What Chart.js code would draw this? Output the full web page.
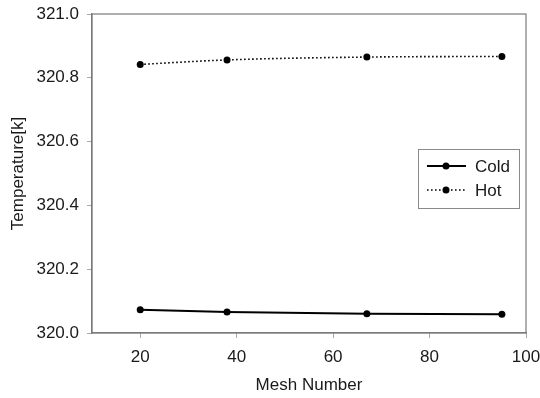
<!DOCTYPE html>
<html>
<head>
<meta charset="utf-8">
<script src="https://cdn.jsdelivr.net/npm/chart.js@4"></script>
<style>
  html, body { margin: 0; padding: 0; background: #fff; }
  #wrap { width: 540px; height: 398px; position: relative; }
</style>
</head>
<body>
<div id="wrap"><canvas id="tempChart"></canvas></div>
<script>
// Mesh sizes tested and the matching temperatures
const meshNumbers = [20, 38, 67, 95];
const coldTemps = [320.073, 320.066, 320.060, 320.059];
const hotTemps = [320.842, 320.856, 320.865, 320.867];
const xTicks = [20, 40, 60, 80, 100];
const yTicks = [320.0, 320.2, 320.4, 320.6, 320.8, 321.0];

const axisGray = '#7a7a7a';
const textColor = '#1a1a1a';
const fontFamily = "'Liberation Sans', Arial, sans-serif";

const toPoints = (ys) => meshNumbers.map((x, i) => ({ x: x, y: ys[i] }));

// draws the box around the plot area (top and right sides included)
const frame = {
    id: 'frame',
    afterDraw(chart) {
        const { ctx, chartArea: a } = chart;
        ctx.save();
        ctx.strokeStyle = axisGray;
        ctx.lineWidth = 1.2;
        ctx.strokeRect(a.left, a.top, a.right - a.left, a.bottom - a.top);
        ctx.restore();
    }
};

// legend box inside the plot, like the original
const boxLegend = {
    id: 'boxLegend',
    afterDraw(chart) {
        const { ctx, chartArea: a } = chart;
        const w = 101, h = 59;
        const x0 = a.right - 7 - w;
        const y0 = a.top + 135;
        ctx.save();
        ctx.fillStyle = '#fff';
        ctx.fillRect(x0, y0, w, h);
        ctx.strokeStyle = '#8a8a8a';
        ctx.lineWidth = 1;
        ctx.strokeRect(x0 + 0.5, y0 + 0.5, w, h);
        ctx.font = '17px ' + fontFamily;
        ctx.textBaseline = 'middle';
        chart.data.datasets.forEach((ds, i) => {
            const y = y0 + 17 + i * 24;
            ctx.strokeStyle = ds.borderColor;
            ctx.lineWidth = ds.borderWidth;
            ctx.setLineDash(ds.borderDash || []);
            ctx.beginPath();
            ctx.moveTo(x0 + 9, y);
            ctx.lineTo(x0 + 48, y);
            ctx.stroke();
            ctx.setLineDash([]);
            ctx.fillStyle = ds.pointBackgroundColor;
            ctx.beginPath();
            ctx.arc(x0 + 28, y, ds.pointRadius, 0, Math.PI * 2);
            ctx.fill();
            ctx.fillStyle = textColor;
            ctx.fillText(ds.label, x0 + 57, y + 1);
        });
        ctx.restore();
    }
};

new Chart(document.getElementById('tempChart'), {
    type: 'scatter',
    data: {
        datasets: [{
            label: 'Cold',
            data: toPoints(coldTemps),
            showLine: true,
            borderColor: '#000',
            borderWidth: 2,
            pointBackgroundColor: '#000',
            pointBorderWidth: 0,
            pointRadius: 3.5,
            tension: 0
        }, {
            label: 'Hot',
            data: toPoints(hotTemps),
            showLine: true,
            borderColor: '#000',
            borderWidth: 1.6,
            borderDash: [1.6, 2.4],
            pointBackgroundColor: '#000',
            pointBorderWidth: 0,
            pointRadius: 3.5,
            cubicInterpolationMode: 'monotone'
        }]
    },
    options: {
        responsive: true,
        maintainAspectRatio: false,
        animation: false,
        layout: { padding: { top: 14, right: 14, left: 0, bottom: 0 } },
        scales: {
            x: {
                type: 'linear',
                min: 10,
                max: 100,
                afterFit: (s) => { s.height = 65; s.paddingLeft = 0; s.paddingRight = 0; },
                afterBuildTicks: (s) => { s.ticks = xTicks.map(v => ({ value: v })); },
                border: { color: axisGray, width: 1.2 },
                grid: { drawOnChartArea: false, tickLength: 5, color: '#a8a8a8' },
                ticks: {
                    color: textColor,
                    font: { size: 17, family: fontFamily },
                    padding: 9,
                    maxRotation: 0
                },
                title: {
                    display: true,
                    text: 'Mesh Number',
                    color: textColor,
                    font: { size: 17, family: fontFamily },
                    padding: { top: 4, bottom: 2 }
                }
            },
            y: {
                min: 320.0,
                max: 321.0,
                afterFit: (s) => { s.width = 92; s.paddingTop = 0; s.paddingBottom = 0; },
                afterBuildTicks: (s) => { s.ticks = yTicks.map(v => ({ value: v })); },
                border: { color: axisGray, width: 1.2 },
                grid: { drawOnChartArea: false, tickLength: 5, color: '#a8a8a8' },
                ticks: {
                    color: textColor,
                    font: { size: 17, family: fontFamily },
                    padding: 8,
                    callback: (v) => Number(v).toFixed(1)
                },
                title: {
                    display: true,
                    text: 'Temperature[k]',
                    color: textColor,
                    font: { size: 17, family: fontFamily },
                    padding: { top: 8, bottom: 0 }
                }
            }
        },
        plugins: {
            legend: { display: false },
            tooltip: { enabled: false }
        }
    },
    plugins: [frame, boxLegend]
});
</script>
</body>
</html>
